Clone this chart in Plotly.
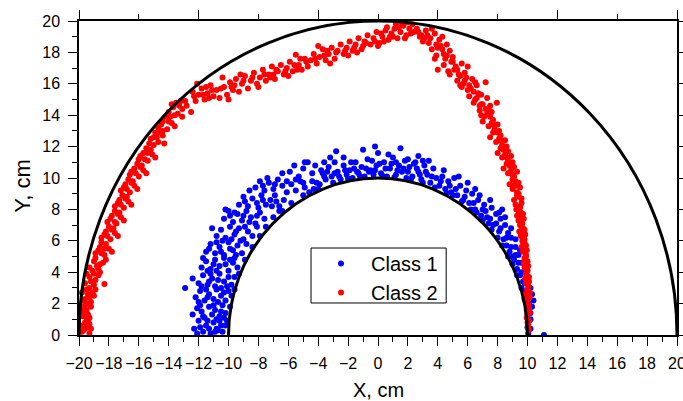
import plotly.graph_objects as go

# ---------------- data ----------------
CIRCLE_RADII = [10, 20]

CLASS1_LEFT = [
    (-12.3,0.4),(-12.0,0.9),(-11.7,0.2),(-11.5,0.6),(-11.2,0.1),(-11.0,0.8),(-10.8,0.4),(-10.6,0.9),(-10.4,0.2),(-10.2,0.6),(-11.3,0.4),(-10.9,0.2),(-12.1,0.1),(-10.5,0.6),
    (-12.4,1.3),(-12.1,1.7),(-11.8,1.5),(-11.6,1.1),(-11.3,1.8),(-11.1,1.3),(-10.9,1.6),(-10.6,1.2),(-10.4,1.9),(-10.2,1.4),(-11.9,1.9),(-10.8,1.0),
    (-12.2,2.4),(-11.9,2.8),(-11.6,2.2),(-11.3,2.6),(-11.0,2.3),(-10.8,2.9),(-10.5,2.5),(-10.2,2.2),(-10.0,2.8),(-11.5,2.9),(-12.9,3.0),(-10.7,2.1),
    (-12.0,3.3),(-11.7,3.8),(-11.4,3.2),(-11.1,3.6),(-10.9,3.1),(-10.6,3.9),(-10.3,3.4),(-10.0,3.7),(-9.8,3.2),(-11.2,3.9),(-12.4,3.6),(-10.5,3.0),
    (-11.8,4.3),(-11.5,4.7),(-11.2,4.2),(-10.9,4.8),(-10.6,4.4),(-10.3,4.9),(-10.0,4.1),(-9.7,4.6),(-9.4,4.3),(-11.0,4.5),(-9.9,4.8),(-11.7,4.9),
    (-11.5,5.3),(-11.2,5.8),(-10.9,5.2),(-10.6,5.6),(-10.3,5.1),(-10.0,5.9),(-9.7,5.4),(-9.4,5.7),(-9.1,5.2),(-8.8,5.8),(-10.8,5.9),(-9.9,5.5),
    (-11.1,6.8),(-10.8,6.3),(-10.5,6.7),(-10.2,6.2),(-9.9,6.9),(-9.6,6.4),(-9.3,6.8),(-9.0,6.1),(-8.7,6.6),(-8.4,6.3),(-8.1,6.9),(-9.8,6.1),
    (-10.3,7.4),(-10.0,7.9),(-9.7,7.2),(-9.4,7.7),(-9.1,7.3),(-8.8,7.9),(-8.5,7.5),(-8.2,7.1),(-7.9,7.8),(-7.6,7.4),(-9.6,7.8),(-10.2,8.0),
    (-9.3,8.3),(-9.0,8.8),(-8.7,8.2),(-8.4,8.7),(-8.1,8.4),(-7.8,8.9),(-7.5,8.3),(-7.2,8.6),(-6.9,8.9),(-6.6,8.2),(-6.3,8.6),(-8.6,9.2),(-8.0,8.1),
    (-6.4,7.9),(-7.0,7.5),(-7.5,6.9),(-7.9,6.3),(-8.4,5.6),(-8.9,4.8),(-9.3,3.9),(-9.6,2.9),(-9.9,1.8),(-10.1,0.9),
    (-11.9,0.5),(-11.4,0.9),(-10.7,0.3),(-10.3,1.1),(-11.7,1.2),(-11.0,1.9),(-10.5,1.5),(-12.0,2.1),(-11.4,2.4),(-10.3,2.7),(-9.8,2.5),
    (-11.8,3.1),(-11.3,3.4),(-10.7,3.5),(-10.1,3.1),(-9.6,3.7),(-11.4,4.1),(-10.8,4.1),(-10.2,4.5),(-9.6,4.9),(-11.3,5.5),(-10.5,5.3),
    (-9.5,5.1),(-9.2,6.0),(-10.4,6.0),(-9.5,6.6),(-8.9,6.9),(-8.6,7.2),(-9.9,7.6),(-9.0,7.6),(-8.1,7.6),(-8.9,8.5),(-7.7,8.6),(-7.1,8.2),(-6.8,8.5),
]
CLASS1_TOP = [
    (-8.2,9.4),(-7.9,9.8),(-7.6,9.2),(-7.3,9.7),(-7.0,9.3),(-6.7,9.9),(-6.4,9.5),(-6.1,9.1),(-5.8,9.6),(-5.5,9.2),(-5.2,9.8),(-4.9,9.4),(-4.6,9.1),(-7.4,10.0),(-6.4,10.3),
    (-5.0,8.9),(-5.8,8.4),(-4.3,9.3),(-6.6,7.9),
    (-5.9,10.4),(-5.6,10.8),(-5.3,10.1),(-5.0,10.6),(-4.7,11.0),(-4.4,10.3),(-4.1,9.7),(-3.8,10.5),(-4.9,11.0),
    (-3.9,9.6),(-3.7,10.3),(-3.5,9.9),(-3.3,10.7),(-3.1,10.1),(-2.9,11.0),(-2.7,10.4),(-2.5,9.9),(-2.3,10.8),(-2.1,10.2),(-2.8,11.7),(-2.3,11.3),(-3.6,11.0),
    (-1.9,10.5),(-1.7,10.0),(-1.5,11.0),(-1.3,10.3),(-1.1,10.7),(-0.9,10.1),(-0.7,11.2),(-0.5,10.5),(-0.3,10.2),(-0.1,10.8),(-1.0,11.8),(-0.2,12.0),(0.0,11.6),
    (0.2,10.3),(0.4,11.0),(0.6,10.1),(0.8,10.6),(1.0,11.3),(1.2,10.2),(1.4,10.8),(1.6,10.4),(1.8,11.1),(1.5,11.9),(0.7,11.5),(1.9,10.0),
    (2.1,10.7),(2.3,10.1),(2.5,11.0),(2.7,10.4),(2.9,9.9),(3.1,10.8),(3.3,10.2),(3.5,9.7),(3.7,10.6),(3.9,10.0),(2.0,11.2),(2.7,11.4),(3.4,11.1),
    (4.1,9.5),(4.3,10.1),(4.5,9.3),(4.7,9.8),(4.9,9.1),(5.1,10.0),(5.3,8.9),(5.5,9.5),(5.7,8.6),(5.9,9.2),(4.4,10.5),(5.4,10.1),
    (-2.0,9.95),(-1.2,10.1),(0.3,10.15),(1.1,10.05),(2.2,9.9),(3.0,9.7),(-3.0,9.7),(-4.0,9.3),(3.8,9.4),(4.6,9.05),(-1.6,10.6),(0.9,10.9),
    (2.6,10.6),(-0.6,10.4),(1.7,10.6),(3.2,10.4),(-2.6,10.1),(-3.4,10.4),
    (-7.7,9.5),(-6.9,9.6),(-6.1,9.8),(-5.5,9.9),(-5.0,9.7),(-4.4,9.8),(-3.6,10.1),(-2.9,10.3),(-2.2,10.5),(-1.4,10.4),(-0.8,10.6),(-0.2,10.5),
    (0.5,10.6),(1.3,10.5),(2.0,10.4),(2.8,10.2),(3.6,10.1),(4.2,9.8),(4.8,9.5),(5.2,9.3),(-1.8,11.0),(-0.4,11.1),(1.2,11.0),(2.4,10.9),
    (-3.2,11.3),(-4.2,10.8),(3.0,11.1),(0.1,10.9),
]
CLASS1_RIGHT = [
    (6.0,9.7),(6.1,8.4),(6.3,9.0),(6.5,8.0),(6.7,8.6),(6.9,7.6),(7.1,8.3),(7.3,7.5),(7.5,8.6),(7.7,7.0),(7.9,7.7),(6.8,8.9),(7.2,7.9),
    (8.1,6.6),(8.2,7.4),(8.3,8.0),(8.4,6.1),(8.5,7.0),(8.6,5.7),(8.7,6.5),(8.8,5.3),(8.9,6.2),(9.0,5.0),(8.5,7.5),(8.9,6.8),
    (9.1,4.8),(9.2,5.6),(9.3,4.2),(9.4,5.1),(9.5,3.8),(9.6,4.6),(9.2,6.1),(9.5,5.4),(9.7,3.4),(9.8,4.0),
    (9.9,2.8),(10.0,3.3),(10.1,2.4),(10.2,3.0),(10.3,2.6),(10.4,2.2),(10.0,1.8),(10.2,1.4),(10.1,0.9),(10.2,0.4),(10.3,1.8),(10.05,0.1),(9.9,2.2),(11.1,0.0),
    (6.2,8.0),(7.0,7.3),(7.6,6.7),(8.0,6.2),(8.3,5.7),(8.7,5.0),(9.0,4.5),(9.3,3.8),(9.6,3.0),(9.8,2.3),(5.0,8.9),(5.6,8.5),(6.6,7.8),(7.4,7.1),
    (5.8,8.8),(6.4,8.4),(7.0,8.0),(7.5,7.4),(7.9,7.1),(8.2,6.8),(8.6,6.2),(8.9,5.6),(9.2,5.1),(9.4,4.6),(9.6,4.0),(9.8,3.3),(10.0,2.6),
    (10.1,2.0),(10.2,1.0),(10.0,0.5),(6.5,9.3),(7.6,8.1),(8.1,7.8),
]

CLASS2_LEFT = [
    (-19.8,0.2),(-19.5,0.5),(-19.3,0.1),(-19.6,0.8),(-19.9,0.6),(-19.4,0.9),(-19.7,0.3),(-19.2,0.4),
    (-19.8,1.2),(-19.5,1.6),(-19.3,1.1),(-19.6,1.9),(-19.9,1.5),(-19.2,1.8),(-19.4,1.3),(-19.7,1.7),
    (-19.7,2.2),(-19.4,2.6),(-19.2,2.1),(-19.5,2.9),(-19.8,2.7),(-19.0,2.5),(-19.3,2.4),(-19.6,2.3),(-18.9,2.9),
    (-19.6,3.3),(-19.3,3.7),(-19.0,3.2),(-18.7,3.8),(-19.5,3.9),(-18.9,3.5),(-18.3,3.25),(-19.2,3.4),(-18.6,4.0),
    (-19.3,4.3),(-19.0,4.7),(-18.7,4.2),(-18.4,4.6),(-18.9,4.9),(-18.6,4.5),(-19.1,4.1),(-18.2,4.8),
    (-18.9,5.2),(-18.6,5.6),(-18.3,5.1),(-18.0,5.5),(-18.5,5.9),(-18.2,5.8),(-17.8,5.3),(-18.7,5.4),
    (-18.5,6.2),(-18.2,6.6),(-17.9,6.1),(-17.6,6.5),(-18.0,6.9),(-17.7,6.8),(-18.3,6.4),(-17.4,6.3),
    (-18.1,7.2),(-17.8,7.6),(-17.5,7.1),(-17.2,7.5),(-17.6,7.9),(-17.3,7.8),(-17.9,7.4),(-17.0,7.3),
    (-17.6,8.2),(-17.3,8.6),(-17.0,8.1),(-16.7,8.5),(-17.1,8.9),(-16.8,8.8),(-17.4,8.4),(-16.5,8.3),
    (-17.2,9.2),(-16.9,9.6),(-16.6,9.1),(-16.3,9.5),(-16.7,9.9),(-16.4,9.8),(-17.0,9.4),(-16.1,9.3),
    (-16.6,10.2),(-16.3,10.6),(-16.0,10.1),(-15.7,10.5),(-16.1,10.9),(-15.8,10.8),(-16.5,10.4),(-15.5,10.3),
    (-16.0,11.2),(-15.7,11.6),(-15.4,11.1),(-15.1,11.5),(-15.5,11.9),(-15.2,11.8),(-15.9,11.4),(-14.9,11.3),
    (-15.3,12.2),(-15.0,12.6),(-14.7,12.3),(-14.4,12.7),(-14.9,12.9),(-14.6,12.9),(-15.2,12.5),(-14.3,12.2),
    (-14.7,13.2),(-14.4,13.6),(-14.1,13.1),(-13.8,13.5),(-14.2,13.9),(-13.9,13.9),(-13.6,13.3),(-14.5,13.4),
    (-14.0,14.2),(-13.7,14.5),(-13.4,14.1),(-13.1,14.4),(-13.5,14.8),(-13.2,14.9),(-12.8,14.6),(-12.5,14.2),(-13.8,14.7),(-13.1,13.9),
    (-19.6,0.4),(-19.3,0.7),(-19.5,1.1),(-19.7,1.4),(-19.4,2.0),(-19.1,2.7),(-19.3,3.0),(-19.0,3.9),(-18.8,4.4),(-18.5,5.2),
    (-18.3,5.5),(-18.1,6.3),(-17.8,6.7),(-17.6,7.2),(-17.4,7.7),(-17.2,8.3),(-16.9,8.7),(-16.8,9.3),(-16.5,9.7),(-16.2,10.3),
    (-15.9,10.7),(-15.6,11.2),(-15.4,11.6),(-15.0,12.1),(-14.8,12.6),(-14.4,13.0),(-14.0,13.6),(-13.6,14.0),(-13.3,14.6),(-12.9,14.9),
]
CLASS2_TOP = [
    (-12.4,15.5),(-12.2,14.9),(-12.0,15.3),(-11.8,15.7),(-11.6,15.0),(-11.4,15.4),(-11.2,15.9),(-11.0,15.2),(-10.8,15.6),(-10.6,15.1),(-12.1,16.0),(-10.4,16.4),(-11.5,15.8),
    (-10.3,15.8),(-10.1,15.3),(-9.9,16.1),(-9.7,15.6),(-9.5,16.3),(-9.3,15.5),(-9.1,16.0),(-8.9,16.5),(-8.7,15.7),(-8.5,16.2),(-10.0,15.0),(-9.2,16.6),
    (-8.3,16.7),(-8.1,16.0),(-7.9,16.4),(-7.7,16.9),(-7.5,16.2),(-7.3,16.6),(-7.1,17.1),(-6.9,16.3),(-6.7,16.8),(-6.5,17.2),(-8.0,15.8),(-7.0,16.6),
    (-6.3,16.6),(-6.1,17.0),(-5.9,17.4),(-5.7,16.8),(-5.5,17.85),(-5.3,17.2),(-5.1,16.9),(-4.9,17.6),(-4.7,17.1),(-4.5,17.5),(-6.0,16.5),(-5.2,17.6),
    (-4.3,17.9),(-4.1,17.3),(-3.9,17.7),(-3.7,18.2),(-3.5,17.5),(-3.3,17.9),(-3.1,18.3),(-2.9,17.6),(-2.7,18.1),(-2.5,18.5),(-4.0,18.4),(-3.2,17.3),
    (-2.3,17.9),(-2.1,18.3),(-1.9,18.7),(-1.7,18.1),(-1.5,18.5),(-1.3,18.9),(-1.1,18.2),(-0.9,18.7),(-0.7,19.1),(-0.5,18.5),(-2.0,17.8),(-1.0,18.4),
    (-0.3,18.9),(-0.1,19.3),(0.1,18.6),(0.3,19.0),(0.5,19.4),(0.7,18.8),(0.9,19.2),(0.0,18.4),(0.6,19.6),(0.4,18.7),
    (1.1,19.5),(1.3,18.9),(1.5,19.3),(1.7,19.7),(1.9,19.1),(2.1,19.5),(2.3,19.8),(1.6,19.9),(2.0,19.9),(2.4,19.3),(1.2,19.8),(1.8,18.9),
    (-12.3,15.2),(-11.7,15.3),(-11.1,15.6),(-10.5,15.7),(-9.8,15.8),(-9.0,16.2),(-8.4,16.4),(-7.6,16.6),(-6.8,16.9),(-6.2,16.8),
    (-5.6,17.2),(-4.8,17.4),(-4.2,17.6),(-3.6,17.8),(-2.8,18.0),(-2.2,18.1),(-1.6,18.3),(-0.8,18.6),(-0.2,18.7),(0.2,19.2),
    (0.8,19.0),(1.4,19.6),(2.2,19.2),(1.0,19.0),(-1.4,18.0),(-3.4,18.1),(-5.4,16.9),(-7.2,16.4),(-9.6,15.9),(-11.3,15.1),
]
CLASS2_RIGHT = [
    (2.6,19.5),(2.9,19.1),(3.2,19.4),(3.5,18.9),(3.8,19.2),(3.0,18.7),(3.4,18.6),(4.1,18.8),(2.8,19.0),(3.6,19.5),(4.3,19.0),
    (3.6,18.2),(3.9,17.8),(4.2,18.4),(4.5,17.6),(4.8,18.1),(4.0,18.3),(4.4,17.9),(3.8,17.6),(5.0,17.7),(4.6,18.5),
    (4.4,17.2),(4.7,16.8),(5.0,17.4),(5.3,16.9),(5.6,17.3),(4.8,16.6),(5.2,17.1),(5.8,16.7),(5.5,16.5),(4.0,16.9),(6.0,17.1),
    (5.3,16.2),(5.6,15.8),(5.9,16.4),(6.2,15.7),(6.5,16.1),(5.7,16.0),(6.0,15.6),(6.3,16.3),(5.5,15.9),(6.6,15.9),
    (6.1,15.2),(6.4,14.8),(6.7,15.4),(7.0,14.7),(7.3,15.1),(6.5,15.0),(6.8,14.6),(6.9,15.3),(7.2,16.1),(7.5,14.6),
    (6.8,14.3),(7.1,13.9),(7.4,14.4),(7.7,13.7),(7.0,13.6),(7.3,14.1),(7.6,14.2),(7.95,14.8),(6.9,14.0),
    (7.4,13.3),(7.7,12.9),(8.0,13.4),(8.2,12.7),(7.5,12.6),(7.8,13.1),(8.1,13.0),(7.6,13.5),
    (7.9,12.3),(8.2,11.9),(8.5,12.4),(8.7,11.7),(8.0,11.6),(8.3,12.1),(8.6,12.0),(8.1,12.5),
    (8.3,11.3),(8.6,10.9),(8.9,11.4),(9.1,10.7),(8.4,10.6),(8.7,11.1),(9.0,11.0),(8.5,11.5),
    (8.7,10.3),(9.0,9.9),(9.3,10.4),(9.4,9.7),(8.8,9.6),(9.1,10.1),(9.2,9.8),(8.9,10.5),
    (9.0,9.3),(9.3,8.9),(9.5,9.4),(9.6,8.7),(9.1,8.6),(9.3,9.1),(9.4,8.8),(9.0,9.5),
    (9.2,8.3),(9.4,7.9),(9.6,8.4),(9.7,7.7),(9.3,7.6),(9.5,8.1),(9.55,7.8),(9.25,8.0),
    (9.4,7.3),(9.6,6.9),(9.75,7.4),(9.8,6.7),(9.45,6.6),(9.65,7.1),(9.7,6.8),(9.5,7.0),
    (9.55,6.3),(9.7,5.9),(9.85,6.4),(9.9,5.7),(9.6,5.6),(9.8,6.1),(9.75,5.8),(9.65,6.0),
    (9.7,5.3),(9.8,4.9),(9.95,5.4),(10.0,4.7),(9.75,4.6),(9.9,5.1),(9.85,4.8),(9.8,5.5),
    (9.8,4.3),(9.9,3.9),(10.05,4.4),(10.1,3.7),(9.85,3.6),(10.0,4.1),(9.95,3.8),
    (9.9,3.3),(10.0,2.9),(10.1,3.4),(10.15,2.7),(9.9,2.6),(10.05,3.1),(10.0,2.8),
    (9.95,2.3),(10.05,1.9),(10.15,2.4),(10.1,1.7),(9.95,1.6),(10.0,2.1),
    (10.0,1.3),(10.1,0.9),(10.15,1.4),(10.05,0.6),(9.95,1.1),(10.1,0.3),(10.0,0.8),
    (2.7,19.3),(3.1,18.9),(3.3,19.1),(3.9,18.5),(4.3,18.2),(4.6,17.8),(4.9,17.4),(5.1,16.9),(5.4,16.6),(5.8,16.2),
    (6.1,15.9),(6.4,15.5),(6.6,15.1),(6.9,14.7),(7.2,14.4),(7.5,13.9),(7.7,13.4),(8.0,12.9),(8.2,12.4),(8.4,11.8),
    (8.6,11.3),(8.8,10.8),(9.0,10.2),(9.2,9.5),(9.4,9.0),(9.5,8.2),(9.6,7.5),(9.7,6.6),(9.8,5.9),(9.9,5.0),
    (9.95,4.2),(10.0,3.5),(10.05,2.5),(10.05,1.5),(10.05,0.4),
]

X_RANGE = [-20, 20]
Y_RANGE = [0, 20]
X_TITLE = "X, cm"
Y_TITLE = "Y, cm"
SERIES_NAMES = ["Class 1", "Class 2"]

# ---------------- figure ----------------
class1 = CLASS1_LEFT + CLASS1_TOP + CLASS1_RIGHT
class2 = CLASS2_LEFT + CLASS2_TOP + CLASS2_RIGHT

FONT = "Liberation Sans, Arial, sans-serif"
MSIZE = 6

fig = go.Figure()
fig.add_trace(go.Scatter(
    x=[p[0] for p in class1], y=[p[1] for p in class1], mode="markers",
    name=SERIES_NAMES[0], marker=dict(color="#0000FF", size=MSIZE, line=dict(width=0))))
fig.add_trace(go.Scatter(
    x=[p[0] for p in class2], y=[p[1] for p in class2], mode="markers",
    name=SERIES_NAMES[1], marker=dict(color="#FF0000", size=MSIZE, line=dict(width=0))))
# helper trace for the mirrored top/right axes
fig.add_trace(go.Scatter(x=[], y=[], xaxis="x2", yaxis="y2", showlegend=False, hoverinfo="skip"))

shapes = []
for r in CIRCLE_RADII:
    shapes.append(dict(type="circle", xref="x", yref="y", x0=-r, x1=r, y0=-r, y1=r,
                       line=dict(color="black", width=3), layer="above"))
# legend frame
shapes.append(dict(type="rect", xref="paper", yref="paper", x0=0.388, x1=0.614, y0=0.102, y1=0.277,
                   line=dict(color="black", width=1), fillcolor="white", layer="below"))

axis_common = dict(showgrid=False, zeroline=False, showline=True, linecolor="black",
                   linewidth=1.5, ticks="outside", tickcolor="black", tickwidth=1.2,
                   automargin=False)

fig.update_layout(
    width=683, height=401,
    margin=dict(l=79, r=6, t=21, b=66),
    paper_bgcolor="white", plot_bgcolor="white",
    font=dict(family=FONT, color="black"),
    shapes=shapes,
    xaxis=dict(range=X_RANGE, tickmode="linear", tick0=-20, dtick=2, ticklen=9,
               tickfont=dict(size=16, family=FONT, color="black"), ticklabelstandoff=4,
               ticklabeloverflow="allow",
               minor=dict(ticks="outside", dtick=1, ticklen=5, tickwidth=1.2, tickcolor="black"),
               **axis_common),
    yaxis=dict(range=Y_RANGE, tickmode="linear", tick0=0, dtick=2, ticklen=9,
               tickfont=dict(size=16, family=FONT, color="black"), ticklabelstandoff=5,
               minor=dict(ticks="outside", dtick=1, ticklen=5, tickwidth=1.2, tickcolor="black"),
               **axis_common),
    xaxis2=dict(range=X_RANGE, overlaying="x", side="top", anchor="y", tickmode="linear",
                tick0=-20, dtick=8, ticklen=9, showticklabels=False,
                minor=dict(ticks="outside", dtick=4, ticklen=5, tickwidth=1.2, tickcolor="black"),
                **axis_common),
    yaxis2=dict(range=Y_RANGE, overlaying="y", side="right", anchor="x", tickmode="linear",
                tick0=0, dtick=2, ticklen=6, showticklabels=False, **axis_common),
    legend=dict(x=0.388, y=0.29, xanchor="left", yanchor="top", bgcolor="rgba(0,0,0,0)",
                borderwidth=0, font=dict(size=20, family=FONT, color="black"),
                itemwidth=50),
    annotations=[
        dict(text=X_TITLE, xref="paper", yref="paper", x=0.5, y=-0.175, showarrow=False,
             xanchor="center", yanchor="middle", font=dict(size=20, family=FONT, color="black")),
        dict(text=Y_TITLE, xref="paper", yref="paper", x=-0.094, y=0.475, showarrow=False,
             textangle=-90, xanchor="center", yanchor="middle",
             font=dict(size=22, family=FONT, color="black")),
    ],
)

fig.write_html("out.html")
